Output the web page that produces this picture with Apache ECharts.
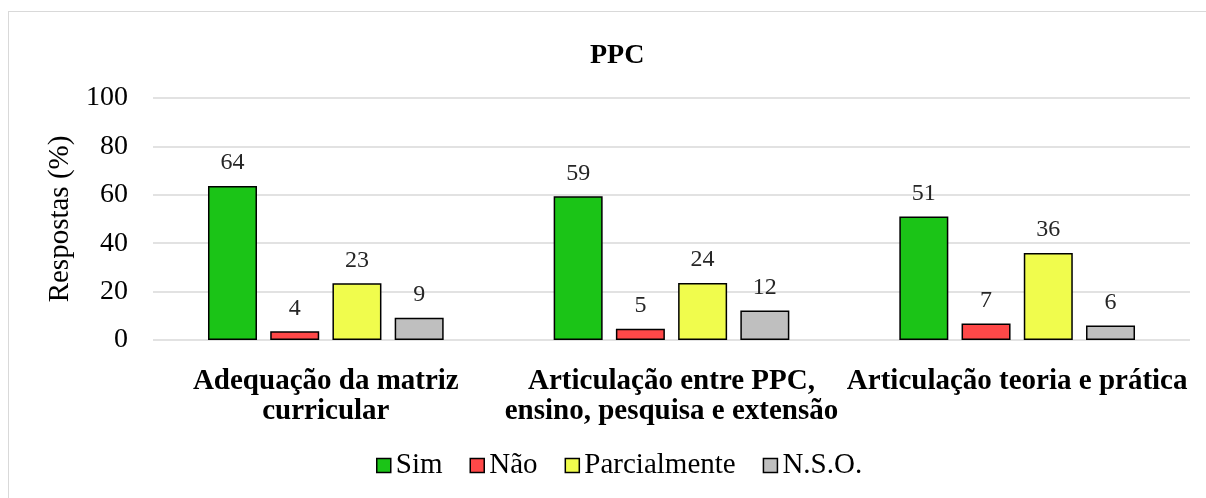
<!DOCTYPE html>
<html>
<head>
<meta charset="utf-8">
<script src="https://cdn.jsdelivr.net/npm/echarts@6/dist/echarts.min.js"></script>
<style>
	body{ margin:0; background:#fff; }
	#box{ position:absolute; left:8px; top:11px; width:1220px; height:520px; border:1px solid #d9d9d9; pointer-events:none; }
	#main{ width:1206px; height:498px; }
</style>
</head>
<body>
<div id="main"></div>
<div id="box"></div>
<script>
	// categorias e séries
	var categorias = ['Adequação da matriz\ncurricular', 'Articulação entre PPC,\nensino, pesquisa e extensão', 'Articulação teoria e prática'];
	var sim = [63.6, 59.4, 51.0];
	var nao = [3.6, 4.6, 6.8];
	var parcialmente = [23.4, 23.6, 35.9];
	var nso = [9.2, 12.2, 6.0];
	var yTicks = [0, 20, 40, 60, 80, 100];

	var FONT = '"Liberation Serif", "Times New Roman", serif';

	function mkSerie(name, data, color){
		return {
			name: name, type: 'bar', data: data,
			barWidth: 49, barGap: '27%',
			itemStyle: { color: color, borderColor: '#000', borderWidth: 1.5 },
			label: { show: true, position: 'top', distance: 11, color: '#262626', fontFamily: FONT, fontSize: 24,
				formatter: function(p){ return Math.round(p.value); } }
		};
	}

	var chart = echarts.init(document.getElementById('main'), null, { renderer: 'canvas' });
	var option = {
		animation: false,
		title: { text: 'PPC', left: 585, top: 37, textStyle: { fontFamily: FONT, fontSize: 28, fontWeight: 'bold', color: '#000' } },
		grid: { left: 153, right: 16, top: 98, bottom: 158 },
		legend: {
			bottom: 13, left: 371, icon: 'rect', itemWidth: 14, itemHeight: 14, itemGap: 27,
			itemStyle: { borderColor: '#000', borderWidth: 1.5 },
			textStyle: { fontFamily: FONT, fontSize: 29, color: '#000' },
			data: ['Sim', 'Não', 'Parcialmente', 'N.S.O.']
		},
		xAxis: {
			type: 'category', data: categorias,
			axisLine: { show: false }, axisTick: { show: false },
			axisLabel: { fontFamily: FONT, fontSize: 29, fontWeight: 'bold', color: '#000', lineHeight: 30, margin: 27, interval: 0 }
		},
		yAxis: {
			type: 'value', min: yTicks[0], max: yTicks[yTicks.length - 1], interval: 20,
			name: 'Respostas (%)', nameLocation: 'middle', nameGap: 76,
			nameTextStyle: { fontFamily: FONT, fontSize: 29, color: '#000' },
			axisLine: { show: false }, axisTick: { show: false },
			axisLabel: { fontFamily: FONT, fontSize: 28, color: '#000', margin: 25 },
			splitLine: { lineStyle: { color: '#d9d9d9', width: 1.5 } }
		},
		series: [
			mkSerie('Sim', sim, '#1BC417'),
			mkSerie('Não', nao, '#FF4848'),
			mkSerie('Parcialmente', parcialmente, '#F0FC4D'),
			mkSerie('N.S.O.', nso, '#BFBFBF')
		]
	};
	chart.setOption(option);
</script>
</body>
</html>
